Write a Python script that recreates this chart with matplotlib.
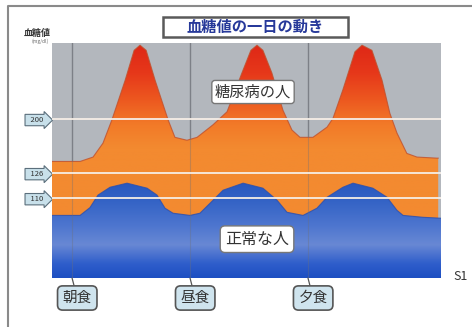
import numpy as np
import matplotlib
matplotlib.use("Agg")
import matplotlib.pyplot as plt
from matplotlib.colors import LinearSegmentedColormap
from matplotlib.lines import Line2D
from matplotlib.patches import Rectangle
from matplotlib.transforms import blended_transform_factory

plt.rcParams["font.family"] = ["Noto Sans CJK JP", "DejaVu Sans"]

# Time of day (hours) and blood glucose (mg/dl): diabetic person
hours_diabetic = [6.15, 7.34, 7.89, 8.31, 8.69, 9.25, 9.63, 9.88, 10.14, 10.52,
                  11.07, 11.36, 11.87, 12.30, 12.97, 13.57, 14.20, 14.58, 14.84,
                  15.09, 15.47, 15.94, 16.32, 16.66, 17.21, 17.81, 18.06, 18.48,
                  18.99, 19.29, 19.71, 20.14, 20.47, 20.77, 21.19, 21.62, 22.47, 22.52]
glucose_diabetic = [142, 142, 148, 167, 199, 253, 294, 301, 294, 253,
                    199, 175, 171, 175, 192, 210, 263, 294, 301,
                    294, 263, 212, 185, 175, 175, 189, 201, 240,
                    292, 301, 294, 253, 208, 181, 153, 148, 146.5, 146.5]

# Healthy person
hours_normal = [6.15, 7.34, 7.76, 8.10, 8.61, 9.33, 10.18, 10.60, 10.94, 11.28,
                12.0, 12.42, 12.85, 13.40, 14.25, 15.09, 15.69, 16.11, 16.79,
                17.38, 17.81, 18.48, 18.91, 19.75, 20.35, 20.77, 21.03, 21.87, 22.64]
glucose_normal = [99, 99, 104, 112, 117, 119.6, 116.4, 112, 103.6, 100.4,
                  99, 100.4, 106.8, 115.1, 119.6, 116.4, 108.7, 101, 99,
                  103.6, 110.6, 117, 119.6, 116.4, 110.6, 102.3, 99, 97.8, 97.2]

meal_hours = [7, 12, 17]
meal_labels = ["朝食", "昼食", "夕食"]
ref_levels = [200, 126, 110]
ref_labels = ["200", "126", "110"]

Y_MIN, Y_MAX = 59, 304
X_MIN, X_MAX = 6.15, 22.64


# Stretched scale below the 126 mg/dl threshold
def fwd(v):
    v = np.asarray(v, dtype=float)
    return np.where(v <= 126, (v - 126) * 1.5625, (v - 126) * 0.73)


def inv(p):
    p = np.asarray(p, dtype=float)
    return np.where(p <= 0, p / 1.5625 + 126, p / 0.73 + 126)


fig = plt.figure(figsize=(4.72, 3.27), dpi=100)
fig.patch.set_facecolor("white")
ax = fig.add_axes([0.1102, 0.1498, 0.8242, 0.7187])
ax.set_yscale("function", functions=(fwd, inv))
ax.set_facecolor("#b3b7bd")

orange_cmap = LinearSegmentedColormap.from_list(
    "orange", [(0, "#f38a30"), (0.55, "#f38a30"), (0.65, "#f27a28"),
               (0.75, "#ed5a20"), (0.87, "#e6381a"), (1, "#de2616")])
blue_cmap = LinearSegmentedColormap.from_list(
    "blue", [(0, "#1d4fc2"), (0.06, "#2f5ecb"), (0.14, "#6888d4"),
             (0.22, "#4e76cf"), (0.32, "#3564c6"), (0.42, "#2655bd"), (1, "#2655bd")])
grad = np.linspace(0, 1, 256).reshape(-1, 1)

# Meal time guide lines behind the areas
for t in meal_hours:
    ax.axvline(t, color="#878a90", lw=1.0, zorder=1)

for hrs, vals, cmap, edge, z in [
        (hours_diabetic, glucose_diabetic, orange_cmap, "#c0502c", 2),
        (hours_normal, glucose_normal, blue_cmap, "#2a4fb0", 3)]:
    poly = ax.fill_between(hrs, vals, Y_MIN, color="none", lw=0, zorder=z)
    img = ax.imshow(grad, cmap=cmap, extent=(0, 1, 0, 1), origin="lower",
                    transform=ax.transAxes, aspect="auto", zorder=z)
    img.set_clip_path(poly.get_paths()[0], poly.get_transform())
    ax.plot(hrs, vals, color=edge, lw=0.8, alpha=0.8, zorder=z + 0.1)

# Faint meal lines over the areas
for t in meal_hours:
    ax.axvline(t, color="#6d7078", lw=0.8, alpha=0.35, zorder=4)

for v in ref_levels:
    ax.axhline(v, color="#f6eee6", lw=1.3, zorder=5)

ax.set_xlim(X_MIN, X_MAX)
ax.set_ylim(Y_MIN, Y_MAX)
for s in ax.spines.values():
    s.set_visible(False)
ax.set_xticks([])
ax.set_yticks(ref_levels, ["  " + s + "  " for s in ref_labels])
ax.tick_params(axis="y", length=0, labelsize=5.5, pad=4, labelcolor="#333333")
for lab in ax.get_yticklabels():
    lab.set_bbox(dict(boxstyle="rarrow,pad=0.22", fc="#c8e0ea", ec="#5b6f7c", lw=0.8))

# Series labels
ax.text(14.67, 237, "糖尿病の人", ha="center", va="center", fontsize=11,
        color="#333333", zorder=6,
        bbox=dict(boxstyle="round,pad=0.2", fc="white", ec="#777777", lw=1.0))
ax.text(14.84, 83.8, "正常な人", ha="center", va="center", fontsize=11.5,
        color="#333333", zorder=6,
        bbox=dict(boxstyle="round,pad=0.3", fc="white", ec="#777777", lw=1.0))

# Meal callouts
tx = blended_transform_factory(ax.transData, ax.transAxes)
for t, lab in zip(meal_hours, meal_labels):
    ax.annotate(lab, xy=(t, Y_MIN), xycoords="data",
                xytext=(t + 0.22, -0.085), textcoords=tx,
                ha="center", va="center", fontsize=10.5, color="#333333",
                annotation_clip=False,
                bbox=dict(boxstyle="round,pad=0.35", fc="#cfe4ee", ec="#555555", lw=1.2),
                arrowprops=dict(arrowstyle="-", color="#555555", lw=0.9,
                                shrinkA=0, shrinkB=0))

# Title box
fig.add_artist(Rectangle((163 / 472, 1 - 37 / 327), 185 / 472, 20 / 327,
                         transform=fig.transFigure, fc="white", ec="#5a5a5a", lw=1.8))
fig.text(255.5 / 472, 1 - 27 / 327, "血糖値の一日の動き", ha="center", va="center",
         fontsize=11, fontweight="bold", color="#27399a")

fig.text(37 / 472, 1 - 33 / 327, "血糖値", ha="center", va="center",
         fontsize=6.5, fontweight="bold", color="#333333")
fig.text(40 / 472, 1 - 41 / 327, "(mg/dl)", ha="center", va="center",
         fontsize=3.5, color="#666666")
fig.text(461 / 472, 1 - 277 / 327, "S1", ha="center", va="center",
         fontsize=9, color="#333333")

# Page frame
fig.add_artist(Line2D([8 / 472, 8 / 472, 1.0], [0.0, 1 - 6 / 327, 1 - 6 / 327],
                      transform=fig.transFigure, color="#8a8a8a", lw=1.5))

fig.savefig("out.png", dpi=100)
